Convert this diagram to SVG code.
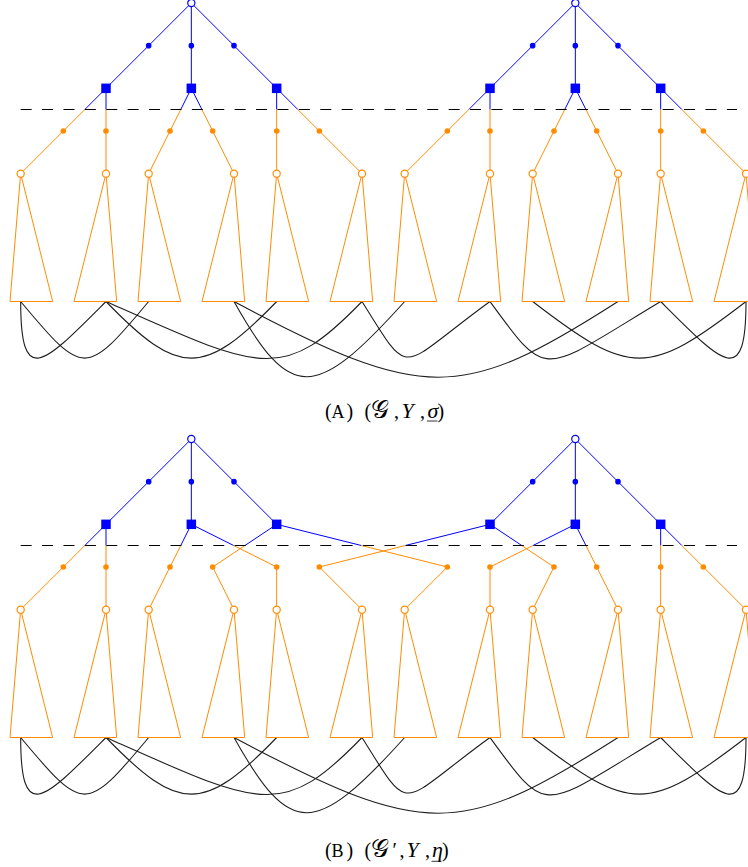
<svg xmlns="http://www.w3.org/2000/svg" width="748" height="867" viewBox="0 0 748 867">
<style>
.b{stroke:#0000ff;stroke-width:1;fill:none}
.o{stroke:#ff8c00;stroke-width:1;fill:none}
.k{stroke:#1e1e1e;stroke-width:1.1;fill:none}
.d{stroke:#000;stroke-width:1;stroke-dasharray:11 10.4;fill:none}
.rt{fill:#fff;stroke:#0000ff;stroke-width:1.2}
.bd{fill:#0000ff}
.sq{fill:#0000ff}
.od{fill:#ff8c00}
.lf{fill:#fff;stroke:#ff8c00;stroke-width:1.2}
.tr{fill:none;stroke:#ff8c00;stroke-width:1}
.cap{font-family:"Liberation Serif","DejaVu Serif","DejaVu Sans",serif;font-size:20px;fill:#000}
.sc{font-size:18px}
.it{font-style:italic;font-size:22px}
.gs{font-size:25px}
</style>
<rect width="748" height="867" fill="#fff"/>

<!-- ================= PANEL A ================= -->
<g id="a-connectors">
  <path class="b" d="M191.33,3 L106,88.33 M191.33,3 L191.33,88.33 M191.33,3 L276.67,88.33 M575.33,3 L490,88.33 M575.33,3 L575.33,88.33 M575.33,3 L660.67,88.33"/>
  <path class="b" d="M106,88.33 L84.83,109.5 M106,88.33 L106,109.5 M191.33,88.33 L180.75,109.5 M191.33,88.33 L201.91,109.5 M276.67,88.33 L276.67,109.5 M276.67,88.33 L297.84,109.5 M490,88.33 L468.83,109.5 M490,88.33 L490,109.5 M575.33,88.33 L564.75,109.5 M575.33,88.33 L585.91,109.5 M660.67,88.33 L660.67,109.5 M660.67,88.33 L681.84,109.5"/>
  <path class="o" d="M84.83,109.5 L20.67,173.67 M106,109.5 L106,173.67 M180.75,109.5 L148.67,173.67 M201.91,109.5 L234,173.67 M276.67,109.5 L276.67,173.67 M297.84,109.5 L362,173.67 M468.83,109.5 L404.67,173.67 M490,109.5 L490,173.67 M564.75,109.5 L532.67,173.67 M585.91,109.5 L618,173.67 M660.67,109.5 L660.67,173.67 M681.84,109.5 L746,173.67"/>
  <line class="d" x1="20.67" y1="109.5" x2="737" y2="109.5"/>
  <path class="k" d="M20.67,301.5 C20.67,389.5 44,363.5 106,301.5"/>
  <path class="k" d="M20.67,301.5 C83.67,377 85.67,377 148.67,301.5"/>
  <path class="k" d="M106,301.5 C179,377 203.67,377 276.67,301.5"/>
  <path class="k" d="M106,301.5 C261.4,370.7 282,384.2 362,301.5"/>
  <path class="k" d="M234,301.5 C290.2,401.8 314.4,401.8 404.67,301.5"/>
  <path class="k" d="M234,301.5 C423.8,402.3 460.5,402.5 618,301.5"/>
  <path class="k" d="M362,301.5 C412.4,382.1 397,368.9 490,301.5"/>
  <path class="k" d="M490,301.5 C548.8,382.4 540.7,373.6 660.67,301.5"/>
  <path class="k" d="M532.67,301.5 C630.7,377 648,377 746,301.5"/>
  <path class="k" d="M746,301.5 C746,389.5 722.67,363.5 660.67,301.5"/>
</g>

<g id="a-r1"><circle class="rt" cx="191.33" cy="3" r="3.6"/></g>
<g id="a-r2"><circle class="rt" cx="575.33" cy="3" r="3.6"/></g>
<g id="a-b1"><circle class="bd" cx="148.67" cy="45.67" r="2.8"/></g>
<g id="a-b2"><circle class="bd" cx="191.33" cy="45.67" r="2.8"/></g>
<g id="a-b3"><circle class="bd" cx="234" cy="45.67" r="2.8"/></g>
<g id="a-b4"><circle class="bd" cx="532.67" cy="45.67" r="2.8"/></g>
<g id="a-b5"><circle class="bd" cx="575.33" cy="45.67" r="2.8"/></g>
<g id="a-b6"><circle class="bd" cx="618" cy="45.67" r="2.8"/></g>
<g id="a-s1"><rect class="sq" x="101.25" y="83.58" width="9.5" height="9.5"/></g>
<g id="a-s2"><rect class="sq" x="186.58" y="83.58" width="9.5" height="9.5"/></g>
<g id="a-s3"><rect class="sq" x="271.92" y="83.58" width="9.5" height="9.5"/></g>
<g id="a-s4"><rect class="sq" x="485.25" y="83.58" width="9.5" height="9.5"/></g>
<g id="a-s5"><rect class="sq" x="570.58" y="83.58" width="9.5" height="9.5"/></g>
<g id="a-s6"><rect class="sq" x="655.92" y="83.58" width="9.5" height="9.5"/></g>
<g id="a-o1"><circle class="od" cx="63.33" cy="131" r="2.8"/></g>
<g id="a-o2"><circle class="od" cx="106" cy="131" r="2.8"/></g>
<g id="a-o3"><circle class="od" cx="170" cy="131" r="2.8"/></g>
<g id="a-o4"><circle class="od" cx="212.67" cy="131" r="2.8"/></g>
<g id="a-o5"><circle class="od" cx="276.67" cy="131" r="2.8"/></g>
<g id="a-o6"><circle class="od" cx="319.33" cy="131" r="2.8"/></g>
<g id="a-o7"><circle class="od" cx="447.33" cy="131" r="2.8"/></g>
<g id="a-o8"><circle class="od" cx="490" cy="131" r="2.8"/></g>
<g id="a-o9"><circle class="od" cx="554" cy="131" r="2.8"/></g>
<g id="a-o10"><circle class="od" cx="596.67" cy="131" r="2.8"/></g>
<g id="a-o11"><circle class="od" cx="660.67" cy="131" r="2.8"/></g>
<g id="a-o12"><circle class="od" cx="703.33" cy="131" r="2.8"/></g>
<g id="a-l1"><polygon class="tr" points="20.67,173.67 10,301.5 52.67,301.5"/><circle class="lf" cx="20.67" cy="173.67" r="3.6"/></g>
<g id="a-l2"><polygon class="tr" points="106,173.67 74,301.5 116.67,301.5"/><circle class="lf" cx="106" cy="173.67" r="3.6"/></g>
<g id="a-l3"><polygon class="tr" points="148.67,173.67 138,301.5 180.67,301.5"/><circle class="lf" cx="148.67" cy="173.67" r="3.6"/></g>
<g id="a-l4"><polygon class="tr" points="234,173.67 202,301.5 244.67,301.5"/><circle class="lf" cx="234" cy="173.67" r="3.6"/></g>
<g id="a-l5"><polygon class="tr" points="276.67,173.67 266,301.5 308.67,301.5"/><circle class="lf" cx="276.67" cy="173.67" r="3.6"/></g>
<g id="a-l6"><polygon class="tr" points="362,173.67 330,301.5 372.67,301.5"/><circle class="lf" cx="362" cy="173.67" r="3.6"/></g>
<g id="a-l7"><polygon class="tr" points="404.67,173.67 394,301.5 436.67,301.5"/><circle class="lf" cx="404.67" cy="173.67" r="3.6"/></g>
<g id="a-l8"><polygon class="tr" points="490,173.67 458,301.5 500.67,301.5"/><circle class="lf" cx="490" cy="173.67" r="3.6"/></g>
<g id="a-l9"><polygon class="tr" points="532.67,173.67 522,301.5 564.67,301.5"/><circle class="lf" cx="532.67" cy="173.67" r="3.6"/></g>
<g id="a-l10"><polygon class="tr" points="618,173.67 586,301.5 628.67,301.5"/><circle class="lf" cx="618" cy="173.67" r="3.6"/></g>
<g id="a-l11"><polygon class="tr" points="660.67,173.67 650,301.5 692.67,301.5"/><circle class="lf" cx="660.67" cy="173.67" r="3.6"/></g>
<g id="a-l12"><polygon class="tr" points="746,173.67 714,301.5 756.67,301.5"/><circle class="lf" cx="746" cy="173.67" r="3.6"/></g>

<g id="a-caption">
  <text class="cap" y="418.3"><tspan x="325">(</tspan><tspan class="sc" x="331.5">A</tspan><tspan x="346.5">)</tspan><tspan x="364.5">(</tspan><tspan class="gs" x="370.5">𝒢</tspan><tspan x="394">,</tspan><tspan class="it" x="401.5">Y</tspan><tspan x="420">,</tspan><tspan class="it" x="427.5">σ</tspan><tspan x="437.5">)</tspan></text>
  <line x1="427" y1="421" x2="437.5" y2="421" stroke="#000" stroke-width="0.8"/>
</g>

<!-- ================= PANEL B ================= -->
<g id="b-connectors">
  <path class="b" d="M191.33,439 L106,524.33 M191.33,439 L191.33,524.33 M191.33,439 L276.67,524.33 M575.33,439 L490,524.33 M575.33,439 L575.33,524.33 M575.33,439 L660.67,524.33"/>
  <path class="b" d="M106,524.33 L84.83,545.5 M106,524.33 L106,545.5 M191.33,524.33 L180.75,545.5 M191.33,524.33 L233.67,545.5 M276.67,524.33 L244.92,545.5 M276.67,524.33 L361.33,545.5 M490,524.33 L405.34,545.5 M490,524.33 L521.75,545.5 M575.33,524.33 L533,545.5 M575.33,524.33 L585.91,545.5 M660.67,524.33 L660.67,545.5 M660.67,524.33 L681.84,545.5"/>
  <path class="o" d="M84.83,545.5 L20.67,609.67 M106,545.5 L106,609.67 M180.75,545.5 L148.67,609.67 M233.67,545.5 L276.67,567 L276.67,609.67 M244.92,545.5 L212.67,567 L234,609.67 M361.33,545.5 L447.33,567 L404.67,609.67 M405.34,545.5 L319.33,567 L362,609.67 M521.75,545.5 L554,567 L532.67,609.67 M533,545.5 L490,567 L490,609.67 M585.91,545.5 L618,609.67 M660.67,545.5 L660.67,609.67 M681.84,545.5 L746,609.67"/>
  <line class="d" x1="20.67" y1="545.5" x2="737" y2="545.5"/>
  <path class="k" d="M20.67,737.5 C20.67,825.5 44,799.5 106,737.5"/>
  <path class="k" d="M20.67,737.5 C83.67,813 85.67,813 148.67,737.5"/>
  <path class="k" d="M106,737.5 C179,813 203.67,813 276.67,737.5"/>
  <path class="k" d="M106,737.5 C261.4,806.7 282,820.2 362,737.5"/>
  <path class="k" d="M234,737.5 C290.2,837.8 314.4,837.8 404.67,737.5"/>
  <path class="k" d="M234,737.5 C423.8,838.3 460.5,838.5 618,737.5"/>
  <path class="k" d="M362,737.5 C412.4,818.1 397,804.9 490,737.5"/>
  <path class="k" d="M490,737.5 C548.8,818.4 540.7,809.6 660.67,737.5"/>
  <path class="k" d="M532.67,737.5 C630.7,813 648,813 746,737.5"/>
  <path class="k" d="M746,737.5 C746,825.5 722.67,799.5 660.67,737.5"/>
</g>

<g id="b-r1"><circle class="rt" cx="191.33" cy="439" r="3.6"/></g>
<g id="b-r2"><circle class="rt" cx="575.33" cy="439" r="3.6"/></g>
<g id="b-b1"><circle class="bd" cx="148.67" cy="481.67" r="2.8"/></g>
<g id="b-b2"><circle class="bd" cx="191.33" cy="481.67" r="2.8"/></g>
<g id="b-b3"><circle class="bd" cx="234" cy="481.67" r="2.8"/></g>
<g id="b-b4"><circle class="bd" cx="532.67" cy="481.67" r="2.8"/></g>
<g id="b-b5"><circle class="bd" cx="575.33" cy="481.67" r="2.8"/></g>
<g id="b-b6"><circle class="bd" cx="618" cy="481.67" r="2.8"/></g>
<g id="b-s1"><rect class="sq" x="101.25" y="519.58" width="9.5" height="9.5"/></g>
<g id="b-s2"><rect class="sq" x="186.58" y="519.58" width="9.5" height="9.5"/></g>
<g id="b-s3"><rect class="sq" x="271.92" y="519.58" width="9.5" height="9.5"/></g>
<g id="b-s4"><rect class="sq" x="485.25" y="519.58" width="9.5" height="9.5"/></g>
<g id="b-s5"><rect class="sq" x="570.58" y="519.58" width="9.5" height="9.5"/></g>
<g id="b-s6"><rect class="sq" x="655.92" y="519.58" width="9.5" height="9.5"/></g>
<g id="b-o1"><circle class="od" cx="63.33" cy="567" r="2.8"/></g>
<g id="b-o2"><circle class="od" cx="106" cy="567" r="2.8"/></g>
<g id="b-o3"><circle class="od" cx="170" cy="567" r="2.8"/></g>
<g id="b-o4"><circle class="od" cx="212.67" cy="567" r="2.8"/></g>
<g id="b-o5"><circle class="od" cx="276.67" cy="567" r="2.8"/></g>
<g id="b-o6"><circle class="od" cx="319.33" cy="567" r="2.8"/></g>
<g id="b-o7"><circle class="od" cx="447.33" cy="567" r="2.8"/></g>
<g id="b-o8"><circle class="od" cx="490" cy="567" r="2.8"/></g>
<g id="b-o9"><circle class="od" cx="554" cy="567" r="2.8"/></g>
<g id="b-o10"><circle class="od" cx="596.67" cy="567" r="2.8"/></g>
<g id="b-o11"><circle class="od" cx="660.67" cy="567" r="2.8"/></g>
<g id="b-o12"><circle class="od" cx="703.33" cy="567" r="2.8"/></g>
<g id="b-l1"><polygon class="tr" points="20.67,609.67 10,737.5 52.67,737.5"/><circle class="lf" cx="20.67" cy="609.67" r="3.6"/></g>
<g id="b-l2"><polygon class="tr" points="106,609.67 74,737.5 116.67,737.5"/><circle class="lf" cx="106" cy="609.67" r="3.6"/></g>
<g id="b-l3"><polygon class="tr" points="148.67,609.67 138,737.5 180.67,737.5"/><circle class="lf" cx="148.67" cy="609.67" r="3.6"/></g>
<g id="b-l4"><polygon class="tr" points="234,609.67 202,737.5 244.67,737.5"/><circle class="lf" cx="234" cy="609.67" r="3.6"/></g>
<g id="b-l5"><polygon class="tr" points="276.67,609.67 266,737.5 308.67,737.5"/><circle class="lf" cx="276.67" cy="609.67" r="3.6"/></g>
<g id="b-l6"><polygon class="tr" points="362,609.67 330,737.5 372.67,737.5"/><circle class="lf" cx="362" cy="609.67" r="3.6"/></g>
<g id="b-l7"><polygon class="tr" points="404.67,609.67 394,737.5 436.67,737.5"/><circle class="lf" cx="404.67" cy="609.67" r="3.6"/></g>
<g id="b-l8"><polygon class="tr" points="490,609.67 458,737.5 500.67,737.5"/><circle class="lf" cx="490" cy="609.67" r="3.6"/></g>
<g id="b-l9"><polygon class="tr" points="532.67,609.67 522,737.5 564.67,737.5"/><circle class="lf" cx="532.67" cy="609.67" r="3.6"/></g>
<g id="b-l10"><polygon class="tr" points="618,609.67 586,737.5 628.67,737.5"/><circle class="lf" cx="618" cy="609.67" r="3.6"/></g>
<g id="b-l11"><polygon class="tr" points="660.67,609.67 650,737.5 692.67,737.5"/><circle class="lf" cx="660.67" cy="609.67" r="3.6"/></g>
<g id="b-l12"><polygon class="tr" points="746,609.67 714,737.5 756.67,737.5"/><circle class="lf" cx="746" cy="609.67" r="3.6"/></g>

<g id="b-caption">
  <text class="cap" y="856.8"><tspan x="325">(</tspan><tspan class="sc" x="331.5">B</tspan><tspan x="346.5">)</tspan><tspan x="364.5">(</tspan><tspan class="gs" x="370.5">𝒢</tspan><tspan x="392.5">′</tspan><tspan x="399.5">,</tspan><tspan class="it" x="406.5">Y</tspan><tspan x="425">,</tspan><tspan class="it" x="432">η</tspan><tspan x="442">)</tspan></text>
  <line x1="431.5" y1="861.3" x2="441.5" y2="861.3" stroke="#000" stroke-width="0.8"/>
</g>
</svg>
